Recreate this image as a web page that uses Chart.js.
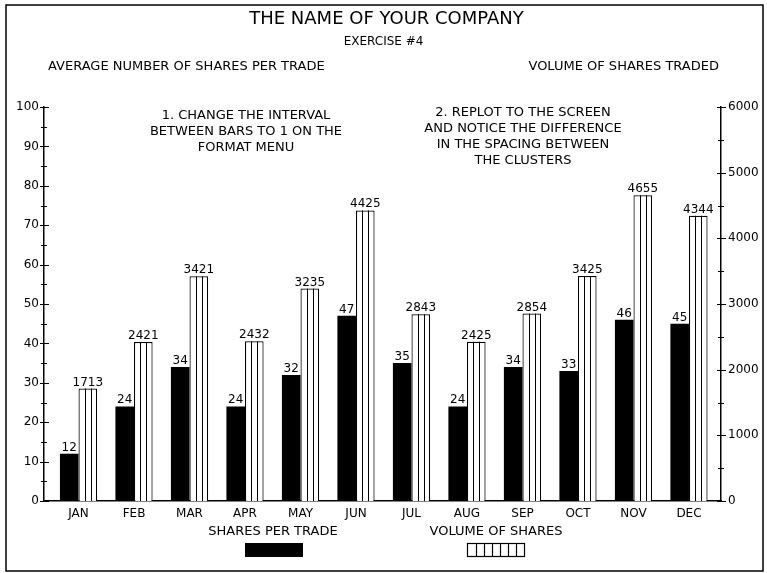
<!DOCTYPE html>
<html>
<head>
<meta charset="utf-8">
<script src="https://cdn.jsdelivr.net/npm/chart.js@4"></script>
<style>
html,body{margin:0;padding:0;background:#fff;}
</style>
</head>
<body>
<canvas id="chart" width="767" height="573"></canvas>
<script>
// === data ===
const months = ["JAN","FEB","MAR","APR","MAY","JUN","JUL","AUG","SEP","OCT","NOV","DEC"];
const sharesPerTrade = [12,24,34,24,32,47,35,24,34,33,46,45];
const volumeOfShares = [1713,2421,3421,2432,3235,4425,2843,2425,2854,3425,4655,4344];
const leftTicks  = [0,10,20,30,40,50,60,70,80,90,100];
const rightTicks = [0,1000,2000,3000,4000,5000,6000];

const titleText = "THE NAME OF YOUR COMPANY";
const subtitleText = "EXERCISE #4";
const leftAxisTitle = "AVERAGE NUMBER OF SHARES PER TRADE";
const rightAxisTitle = "VOLUME OF SHARES TRADED";
const noteLeft  = ["1. CHANGE THE INTERVAL","BETWEEN BARS TO 1 ON THE","FORMAT MENU"];
const noteRight = ["2. REPLOT TO THE SCREEN","AND NOTICE THE DIFFERENCE","IN THE SPACING BETWEEN","THE CLUSTERS"];

// === look ===
const FONT = "'DejaVu Sans', 'Liberation Sans', sans-serif";
const INK = "#000";
const font = (px) => `${px}px ${FONT}`;

// === decorations: frame, hatch, value labels, crossing ticks, texts, legend ===
const plotterDecor = {
  id: "plotterDecor",
  beforeDraw(chart){
    const {ctx} = chart;
    ctx.save();
    ctx.fillStyle = "#fff";
    ctx.fillRect(0, 0, chart.width, chart.height);
    ctx.strokeStyle = INK; ctx.lineWidth = 1.5;
    ctx.strokeRect(6, 5, 757, 566);
    ctx.restore();
  },
  afterDatasetsDraw(chart){
    const {ctx} = chart;
    ctx.save();
    ctx.strokeStyle = INK; ctx.lineWidth = 1;

    // vertical lines inside the volume bars
    chart.getDatasetMeta(1).data.forEach(bar=>{
      const {x, y, base, width} = bar.getProps(["x","y","base","width"], true);
      const l = x - width/2;
      for(let k=1;k<3;k++){
        const xx = Math.round(l + width*k/3) + 0.5;
        ctx.beginPath(); ctx.moveTo(xx, y); ctx.lineTo(xx, base); ctx.stroke();
      }
    });

    // value labels on top of every bar
    ctx.font = font(12); ctx.fillStyle = INK;
    ctx.textAlign = "center"; ctx.textBaseline = "alphabetic";
    [sharesPerTrade, volumeOfShares].forEach((vals, di)=>{
      chart.getDatasetMeta(di).data.forEach((bar,i)=>{
        ctx.fillText(String(vals[i]), bar.x, bar.y - 3);
      });
    });

    // ticks crossing both value axes (major + minor)
    const area = chart.chartArea;
    const crossTicks = (scale, x, ticks) => {
      const half = (ticks[1]-ticks[0])/2;
      for(let v=ticks[0]; v<=ticks[ticks.length-1]; v+=half){
        const py = Math.round(scale.getPixelForValue(v)) + 0.5;
        const major = ticks.includes(v);
        const a = major ? 4 : 3, b = major ? 5 : 3;
        ctx.beginPath(); ctx.moveTo(x-a, py); ctx.lineTo(x+b, py); ctx.stroke();
      }
    };
    crossTicks(chart.scales.y, area.left, leftTicks);
    crossTicks(chart.scales.y1, area.right, rightTicks);
    ctx.restore();
  },
  afterDraw(chart){
    const {ctx} = chart;
    const cx = chart.width/2;
    ctx.save();
    ctx.fillStyle = INK;
    ctx.textBaseline = "middle";

    ctx.textAlign = "center";
    ctx.font = font(18); ctx.fillText(titleText, cx + 3, 19);
    ctx.font = font(12); ctx.fillText(subtitleText, cx, 42);

    ctx.font = font(13);
    ctx.textAlign = "left";  ctx.fillText(leftAxisTitle, 48, 67);
    ctx.textAlign = "right"; ctx.fillText(rightAxisTitle, 719, 67);

    ctx.textAlign = "center";
    noteLeft.forEach((t,i)=>ctx.fillText(t, 246, 116 + i*16));
    noteRight.forEach((t,i)=>ctx.fillText(t, 523, 113 + i*16));

    // legend
    const ds = chart.data.datasets;
    ctx.font = font(13);
    ctx.fillText(ds[0].label, 273, 532);
    ctx.fillText(ds[1].label, 496, 532);
    ctx.fillRect(245, 543, 58, 14);
    ctx.strokeStyle = INK; ctx.lineWidth = 1.2;
    ctx.strokeRect(467.5, 543.5, 57, 13);
    for(let k=1;k<7;k++){
      const xx = Math.round(467.5 + 57*k/7) + 0.5;
      ctx.beginPath(); ctx.moveTo(xx, 543.5); ctx.lineTo(xx, 556.5); ctx.stroke();
    }
    ctx.restore();
  }
};

// === chart ===
new Chart(document.getElementById("chart"), {
  type: "bar",
  data: {
    datasets: [
      { label: "SHARES PER TRADE", yAxisID: "y",
        data: sharesPerTrade.map((v,i)=>({x:i, y:v})),
        backgroundColor: INK, borderWidth: 0 },
      { label: "VOLUME OF SHARES", yAxisID: "y1",
        data: volumeOfShares.map((v,i)=>({x:i, y:v})),
        backgroundColor: "#fff", borderColor: INK, borderWidth: 1.2 }
    ]
  },
  options: {
    responsive: false, animation: false, devicePixelRatio: 1,
    layout: { padding: { top: 107, left: 0, right: 0, bottom: 0 } },
    plugins: { legend: { display: false }, tooltip: { enabled: false } },
    datasets: { bar: { categoryPercentage: 0.67, barPercentage: 1 } },
    scales: {
      x: {
        type: "linear", min: -0.622, max: 11.577, offset: false,
        grid: { display: false, drawTicks: false },
        border: { color: INK, width: 1.5 },
        afterBuildTicks: s => { s.ticks = months.map((m,i)=>({value:i})); },
        afterFit: s => { s.height = 72; },
        ticks: { autoSkip: false, maxRotation: 0, padding: 6, color: INK, font: { family: FONT, size: 12 },
                 callback: v => months[v] }
      },
      y: {
        position: "left", min: 0, max: 100,
        grid: { display: false, drawTicks: false },
        border: { color: INK, width: 1.5 },
        afterBuildTicks: s => { s.ticks = leftTicks.map(v=>({value:v})); },
        afterFit: s => { s.width = 44; },
        ticks: { padding: 5, color: INK, font: { family: FONT, size: 12 }, callback: v => String(v) }
      },
      y1: {
        position: "right", min: 0, max: 6000,
        grid: { display: false, drawTicks: false },
        border: { color: INK, width: 1.5 },
        afterBuildTicks: s => { s.ticks = rightTicks.map(v=>({value:v})); },
        afterFit: s => { s.width = 46; },
        ticks: { padding: 7, color: INK, font: { family: FONT, size: 12 }, callback: v => String(v) }
      }
    }
  },
  plugins: [plotterDecor]
});
</script>
</body>
</html>
